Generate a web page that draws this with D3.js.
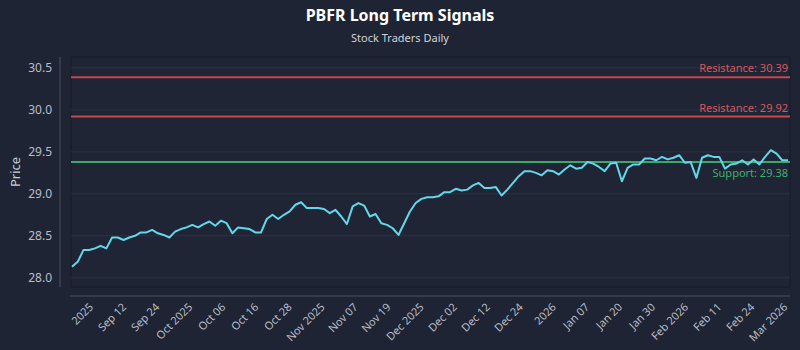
<!DOCTYPE html>
<html>
<head>
<meta charset="utf-8">
<script src="https://cdn.jsdelivr.net/npm/d3@7"></script>
<style>
  html, body { margin: 0; padding: 0; background: #1e2433; }
  svg { display: block; }
  text { font-family: "Noto Sans", "Open Sans", sans-serif; }
</style>
</head>
<body>
<svg id="chart" width="800" height="350"></svg>
<script>
const title = "PBFR Long Term Signals";
const subtitle = "Stock Traders Daily";

const prices = [
  28.13, 28.19, 28.33, 28.33, 28.35, 28.38, 28.35, 28.48, 28.48, 28.45,
  28.48, 28.50, 28.54, 28.54, 28.57, 28.53, 28.51, 28.48, 28.55, 28.58,
  28.60, 28.63, 28.60, 28.64, 28.67, 28.62, 28.68, 28.65, 28.53, 28.60,
  28.59, 28.58, 28.54, 28.54, 28.70, 28.75, 28.70, 28.75, 28.79, 28.87,
  28.90, 28.83, 28.83, 28.83, 28.82, 28.77, 28.81, 28.73, 28.64, 28.85,
  28.89, 28.86, 28.73, 28.76, 28.65, 28.63, 28.59, 28.51, 28.65, 28.79,
  28.89, 28.94, 28.96, 28.96, 28.97, 29.02, 29.02, 29.06, 29.04, 29.05,
  29.10, 29.13, 29.07, 29.07, 29.08, 28.98, 29.05, 29.13, 29.21, 29.27,
  29.27, 29.25, 29.22, 29.28, 29.27, 29.23, 29.29, 29.34, 29.30, 29.31,
  29.38, 29.36, 29.32, 29.27, 29.36, 29.37, 29.15, 29.31, 29.35, 29.35,
  29.42, 29.42, 29.40, 29.44, 29.41, 29.43, 29.46, 29.37, 29.38, 29.19,
  29.43, 29.46, 29.44, 29.44, 29.30, 29.35, 29.36, 29.40, 29.35, 29.41,
  29.35, 29.44, 29.52, 29.48, 29.40, 29.40
];

const tickLabels = [
  "2025", "Sep 12", "Sep 24", "Oct 2025", "Oct 06", "Oct 16", "Oct 28",
  "Nov 2025", "Nov 07", "Nov 19", "Dec 2025", "Dec 02", "Dec 12", "Dec 24",
  "2026", "Jan 07", "Jan 20", "Jan 30", "Feb 2026", "Feb 11", "Feb 24", "Mar 2026"
];
const tickFirst = 3.1, tickLast = 124.3;

const yTicks = [28.0, 28.5, 29.0, 29.5, 30.0, 30.5];

const levelNames = ["Resistance", "Resistance", "Support"];
const levelValues = [30.39, 29.92, 29.38];
const levelColors = ["#c8474f", "#c8474f", "#3aa868"];
const levelTextColors = ["#d9575c", "#d9575c", "#3fb06e"];

const svg = d3.select("#chart");
const W = 800, H = 350;
const plot = { left: 71, right: 790, top: 57, bottom: 287 };

svg.append("rect").attr("width", W).attr("height", H).attr("fill", "#1e2433");

// plot frame
svg.append("rect")
  .attr("x", plot.left).attr("y", plot.top)
  .attr("width", plot.right - plot.left).attr("height", plot.bottom - plot.top)
  .attr("fill", "#1f2535").attr("stroke", "#151a25").attr("stroke-width", 1);

const x = d3.scaleLinear().domain([0, prices.length - 1]).range([72, 788]);
const y = d3.scaleLinear().domain([27.89, 30.63]).range([plot.bottom, plot.top]);

// grid
svg.append("g").selectAll("line").data(yTicks).join("line")
  .attr("x1", plot.left).attr("x2", plot.right)
  .attr("y1", d => y(d)).attr("y2", d => y(d))
  .attr("stroke", "#2c3344").attr("stroke-width", 1);

// Y axis (offset)
const yAxis = d3.axisLeft(y).tickValues(yTicks).tickFormat(d3.format(".1f")).tickSize(0).tickPadding(8);
const gy = svg.append("g").attr("transform", `translate(60,0)`).call(yAxis);
gy.select(".domain").attr("stroke", "#4a5060").attr("d", `M0,${plot.top}V${plot.bottom}`);
gy.selectAll("text").attr("fill", "#b9bdc8").attr("font-size", 12);

// X axis (offset)
const tickStep = (tickLast - tickFirst) / (tickLabels.length - 1);
const tickPos = tickLabels.map((_, i) => tickFirst + i * tickStep);
const xAxis = d3.axisBottom(x).tickValues(tickPos).tickFormat((d, i) => tickLabels[i]).tickSize(0).tickPadding(0);
const gx = svg.append("g").attr("transform", `translate(0,296)`).call(xAxis);
gx.select(".domain").attr("stroke", "#4a5060").attr("d", `M${plot.left - 1},0H${plot.right}`);
gx.selectAll("text")
  .attr("fill", "#b9bdc8").attr("font-size", 11)
  .attr("text-anchor", "end")
  .attr("x", 0).attr("y", 0)
  .attr("dx", 0).attr("dy", "0.35em")
  .attr("transform", "translate(1,9) rotate(-45)");

// Y label
svg.append("text")
  .attr("transform", `translate(20,${(plot.top + plot.bottom) / 2}) rotate(-90)`)
  .attr("text-anchor", "middle")
  .attr("fill", "#c9ccd5").attr("font-size", 13)
  .text("Price");

// level lines
levelValues.forEach((v, i) => {
  svg.append("line")
    .attr("x1", plot.left).attr("x2", plot.right)
    .attr("y1", y(v)).attr("y2", y(v))
    .attr("stroke", levelColors[i]).attr("stroke-width", 2);
  const below = levelNames[i] === "Support";
  svg.append("text")
    .attr("x", 788).attr("y", below ? y(v) + 15 : y(v) - 5)
    .attr("text-anchor", "end")
    .attr("fill", levelTextColors[i]).attr("font-size", 11)
    .text(`${levelNames[i]}: ${v.toFixed(2)}`);
});

// price line
const line = d3.line().x((d, i) => x(i)).y(d => y(d));
svg.append("path")
  .datum(prices)
  .attr("d", line)
  .attr("fill", "none")
  .attr("stroke", "#62d8ea")
  .attr("stroke-width", 2)
  .attr("stroke-linejoin", "round");

// titles
svg.append("text")
  .attr("x", W / 2).attr("y", 21)
  .attr("text-anchor", "middle")
  .attr("fill", "#ffffff").attr("font-size", 16).attr("font-weight", "bold")
  .text(title);
svg.append("text")
  .attr("x", W / 2).attr("y", 42)
  .attr("text-anchor", "middle")
  .attr("fill", "#d0d3da").attr("font-size", 11)
  .text(subtitle);
</script>
</body>
</html>
